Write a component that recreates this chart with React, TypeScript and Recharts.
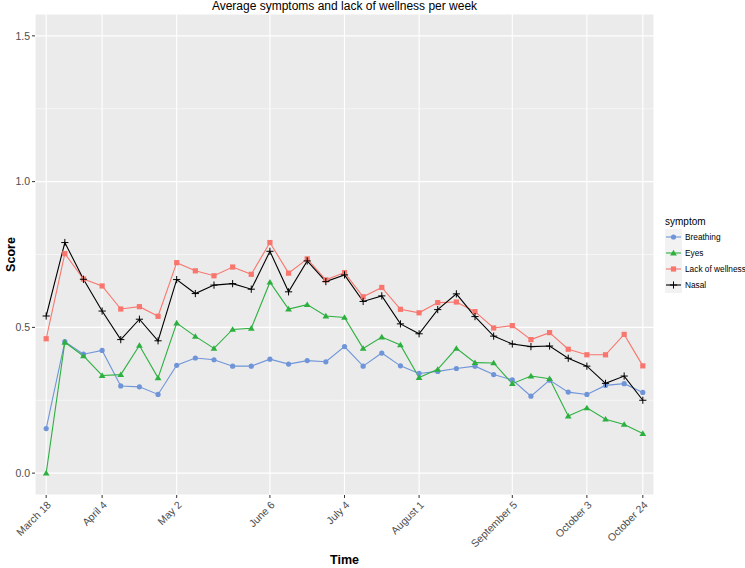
import React from "react";
import {
  LineChart,
  Line,
  XAxis,
  YAxis,
  CartesianGrid,
  ReferenceLine,
  Legend,
  Label,
} from "recharts";

const BREATHING = [
  0.153, 0.451, 0.408, 0.421, 0.299, 0.296, 0.27, 0.37, 0.395, 0.389, 0.367,
  0.367, 0.391, 0.374, 0.386, 0.382, 0.434, 0.367, 0.412, 0.368, 0.342, 0.349,
  0.359, 0.367, 0.338, 0.32, 0.264, 0.319, 0.278, 0.27, 0.301, 0.307, 0.277,
];
const EYES = [
  0.0, 0.449, 0.402, 0.335, 0.338, 0.438, 0.327, 0.515, 0.469, 0.428, 0.493,
  0.497, 0.655, 0.563, 0.578, 0.539, 0.534, 0.428, 0.467, 0.44, 0.328, 0.356,
  0.428, 0.379, 0.378, 0.307, 0.333, 0.324, 0.196, 0.224, 0.185, 0.167, 0.136,
];
const WELLNESS = [
  0.461, 0.753, 0.666, 0.642, 0.563, 0.571, 0.538, 0.722, 0.694, 0.677, 0.707,
  0.682, 0.791, 0.686, 0.735, 0.663, 0.688, 0.605, 0.637, 0.562, 0.55, 0.585,
  0.587, 0.554, 0.498, 0.506, 0.458, 0.482, 0.425, 0.406, 0.406, 0.476, 0.368,
];
const NASAL = [
  0.539, 0.791, 0.665, 0.556, 0.458, 0.528, 0.454, 0.664, 0.616, 0.645, 0.65,
  0.631, 0.761, 0.622, 0.728, 0.657, 0.68, 0.589, 0.608, 0.512, 0.478, 0.561,
  0.615, 0.537, 0.47, 0.443, 0.434, 0.436, 0.394, 0.367, 0.308, 0.333, 0.25,
];

// week index of each labelled date
const TICK_WEEKS = [0, 3, 7, 12, 16, 20, 25, 29, 32];
const TICK_LABELS = [
  "March 18",
  "April 4",
  "May 2",
  "June 6",
  "July 4",
  "August 1",
  "September 5",
  "October 3",
  "October 24",
];
const Y_TICKS = [0, 0.5, 1, 1.5];
const Y_MINOR = [0.25, 0.75, 1.25];

const FONT = "'Liberation Sans', Arial, Helvetica, sans-serif";

const SERIES = [
  { key: "breathing", name: "Breathing", color: "#6F95D8", shape: "circle" },
  { key: "eyes", name: "Eyes", color: "#2DB040", shape: "triangle" },
  { key: "wellness", name: "Lack of wellness", color: "#F8766D", shape: "square" },
  { key: "nasal", name: "Nasal", color: "#000000", shape: "plus" },
];

const rows = BREATHING.map((_, i) => ({
  week: i,
  breathing: BREATHING[i],
  eyes: EYES[i],
  wellness: WELLNESS[i],
  nasal: NASAL[i],
}));

function Marker({ shape, cx, cy, color }: any) {
  if (cx == null || cy == null) return null;
  if (shape === "circle") return <circle cx={cx} cy={cy} r={2.6} fill={color} />;
  if (shape === "square")
    return <rect x={cx - 2.6} y={cy - 2.6} width={5.2} height={5.2} fill={color} />;
  if (shape === "triangle") {
    const h = 3.2;
    return (
      <polygon
        points={`${cx},${cy - h} ${cx - h * 1.05},${cy + h * 0.75} ${cx + h * 1.05},${cy + h * 0.75}`}
        fill={color}
      />
    );
  }
  return (
    <g stroke={color} strokeWidth={1}>
      <line x1={cx - 3.6} x2={cx + 3.6} y1={cy} y2={cy} />
      <line x1={cx} x2={cx} y1={cy - 3.6} y2={cy + 3.6} />
    </g>
  );
}

const XTick = ({ x, y, payload }: any) => {
  const idx = TICK_WEEKS.indexOf(payload.value);
  return (
    <g transform={`translate(${x},${y})`}>
      <text
        transform="rotate(-45)"
        x={0}
        y={0}
        dy="0.75em"
        textAnchor="end"
        fill="#4D4D4D"
        fontSize={10.5}
        fontFamily={FONT}
      >
        {TICK_LABELS[idx]}
      </text>
    </g>
  );
};

const LegendBox = () => (
  <div style={{ fontFamily: FONT, width: 85 }}>
    <div style={{ fontSize: 10, height: 15, lineHeight: "15px", color: "#000" }}>
      symptom
    </div>
    {SERIES.map((s) => (
      <div key={s.key} style={{ display: "flex", alignItems: "center", height: 16 }}>
        <svg width={17} height={16} style={{ display: "block" }}>
          <rect x={0} y={0} width={17} height={16} fill="#F2F2F2" />
          <line x1={1} x2={16} y1={8} y2={8} stroke={s.color} strokeWidth={1.1} />
          <Marker shape={s.shape} cx={8.5} cy={8} color={s.color} />
        </svg>
        <span style={{ fontSize: 8.3, marginLeft: 3, color: "#000", whiteSpace: "nowrap" }}>
          {s.name}
        </span>
      </div>
    ))}
  </div>
);

export default function App() {
  return (
    <div style={{ position: "absolute", left: 0, top: 0, width: 745, height: 568, background: "#fff" }}>
      <div
        style={{
          position: "absolute",
          left: 35,
          width: 619,
          top: 0,
          lineHeight: "13px",
          textAlign: "center",
          fontFamily: FONT,
          fontSize: 12,
          color: "#000",
          whiteSpace: "nowrap",
        }}
      >
        Average symptoms and lack of wellness per week
      </div>
      <LineChart
        width={745}
        height={568}
        data={rows}
        margin={{ top: 14, right: 91, left: 0, bottom: 0 }}
      >
        <CartesianGrid fill="#EBEBEB" stroke="#FFFFFF" strokeWidth={1.1} />
        {Y_MINOR.map((v) => (
          <ReferenceLine key={v} y={v} stroke="#FFFFFF" strokeWidth={0.55} />
        ))}
        <XAxis
          dataKey="week"
          type="number"
          domain={[-0.6, 32.6]}
          allowDataOverflow
          ticks={TICK_WEEKS}
          interval={0}
          height={73}
          axisLine={false}
          tickLine={{ stroke: "#333333" }}
          tickSize={3}
          tickMargin={2}
          tick={<XTick />}
        >
          <Label
            content={({ viewBox }: any) => (
              <text
                x={viewBox.x + viewBox.width / 2}
                y={564}
                textAnchor="middle"
                fontFamily={FONT}
                fontWeight="bold"
                fontSize={12.5}
                fill="#000"
              >
                Time
              </text>
            )}
          />
        </XAxis>
        <YAxis
          type="number"
          domain={[-0.075, 1.575]}
          allowDataOverflow
          ticks={Y_TICKS}
          width={35}
          axisLine={false}
          tickLine={{ stroke: "#333333" }}
          tickSize={3}
          tickMargin={2}
          tickFormatter={(v: number) => v.toFixed(1)}
          tick={{ fill: "#4D4D4D", fontSize: 10.5, fontFamily: FONT }}
        >
          <Label
            content={({ viewBox }: any) => (
              <text
                x={0}
                y={0}
                transform={`translate(15,${viewBox.y + viewBox.height / 2}) rotate(-90)`}
                textAnchor="middle"
                fontFamily={FONT}
                fontWeight="bold"
                fontSize={12.5}
                fill="#000"
              >
                Score
              </text>
            )}
          />
        </YAxis>
        <Legend
          layout="horizontal"
          align="center"
          verticalAlign="middle"
          wrapperStyle={{ left: 665, top: 214, width: 85 }}
          content={() => <LegendBox />}
        />
        {SERIES.map((s) => (
          <Line
            key={s.key}
            dataKey={s.key}
            name={s.name}
            stroke={s.color}
            strokeWidth={1.1}
            isAnimationActive={false}
            dot={(p: any) => (
              <Marker key={`${s.key}-${p.index}`} shape={s.shape} cx={p.cx} cy={p.cy} color={s.color} />
            )}
            activeDot={false}
          />
        ))}
      </LineChart>
    </div>
  );
}
